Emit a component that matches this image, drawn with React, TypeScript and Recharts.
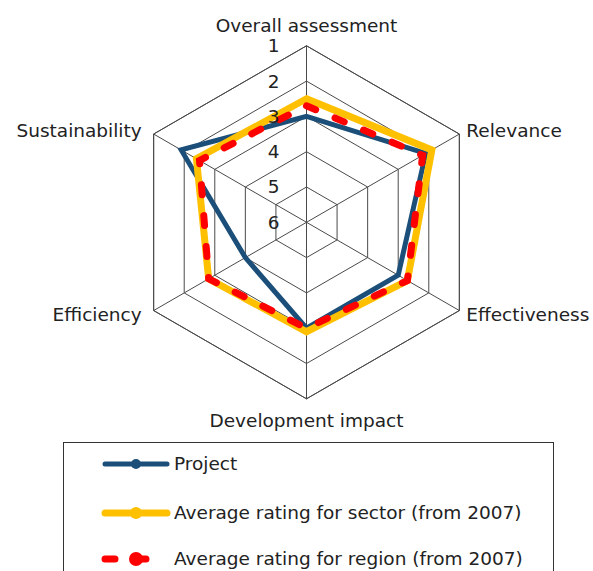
import { RadarChart, PolarGrid, PolarAngleAxis, PolarRadiusAxis, Radar, Legend } from 'recharts'

const categories = [
  'Overall assessment',
  'Relevance',
  'Effectiveness',
  'Development impact',
  'Efficiency',
  'Sustainability',
]
const projectRatings = [3.0, 2.1, 3.0, 3.0, 4.0, 1.9]
const sectorRatings = [2.5, 1.9, 2.7, 2.9, 2.8, 2.4]
const regionRatings = [2.7, 2.2, 2.7, 3.0, 2.8, 2.5]
const ratingTicks = [1, 2, 3, 4, 5, 6]
const seriesNames = [
  'Project',
  'Average rating for sector (from 2007)',
  'Average rating for region (from 2007)',
]

const data = categories.map((name, i) => ({
  name,
  project: projectRatings[i],
  sector: sectorRatings[i],
  region: regionRatings[i],
}))

const FONT = '"DejaVu Sans", sans-serif'
const TEXT = '#222'
const CX = 298.5
const CY = 214.3

const BLUE = '#1b4f79'
const YELLOW = '#ffc000'
const RED = '#ff0000'

// icon styles for the legend, keyed by dataKey
const iconStyles: Record<string, { color: string; width: number; r: number; dash?: string }> = {
  project: { color: BLUE, width: 5, r: 6 },
  sector: { color: YELLOW, width: 7, r: 7 },
  region: { color: RED, width: 7, r: 8, dash: '10 21' },
}

function AngleTick(props: any) {
  const { x, y, payload, textAnchor } = props
  let anchor = textAnchor
  let dy: number | string = '0.35em'
  let dx = 0
  if (Math.abs(x - CX) < 1) {
    anchor = 'middle'
    dy = y < CY ? -6 : 20
  } else if (x < CX) {
    dx = -5
  }
  return (
    <text x={x + dx} y={y} dy={dy} textAnchor={anchor} fill={TEXT} fontSize={18.5} fontFamily={FONT}>
      {payload.value}
    </text>
  )
}

function RadiusTick(props: any) {
  const { x, y, payload } = props
  return (
    <text x={x - 27} y={y} dy="0.35em" textAnchor="end" fill={TEXT} fontSize={18.5} fontFamily={FONT}>
      {payload.value}
    </text>
  )
}

function LegendBox(props: any) {
  const payload = [...(props.payload || [])].sort(
    (a: any, b: any) => seriesNames.indexOf(a.value) - seriesNames.indexOf(b.value),
  )
  const rowCenters = [21, 69.7, 115.7]
  return (
    <div
      style={{
        width: 491,
        height: 170,
        border: '1px solid #333',
        boxSizing: 'border-box',
        background: '#fff',
        position: 'relative',
        fontFamily: FONT,
        fontSize: 18.5,
        color: TEXT,
      }}
    >
      {payload.map((entry: any, i: number) => {
        const s = iconStyles[entry.dataKey] || iconStyles.project
        return (
          <div
            key={entry.dataKey}
            style={{ position: 'absolute', left: 0, top: rowCenters[i] - 14, height: 28, width: 480 }}
          >
            <svg width={70} height={28} style={{ position: 'absolute', left: 37, top: 0 }}>
              <line
                x1={4}
                y1={14}
                x2={66}
                y2={14}
                stroke={s.color}
                strokeWidth={s.width}
                strokeLinecap="round"
                strokeDasharray={s.dash}
              />
              <circle cx={35} cy={14} r={s.r - 1} fill={s.color} />
            </svg>
            <span style={{ position: 'absolute', left: 110, top: 3, whiteSpace: 'nowrap' }}>
              {entry.value}
            </span>
          </div>
        )
      })}
    </div>
  )
}

export default function App() {
  return (
    <div style={{ width: 585, height: 563, overflow: 'hidden' }}>
      <style>{'body{margin:8px 0 0 8px;overflow:hidden}.recharts-surface{overflow:visible}'}</style>
      <RadarChart
        width={585}
        height={600}
        data={data}
        cx={CX}
        cy={CY}
        outerRadius={176.5}
        margin={{ top: 0, right: 0, bottom: 0, left: 0 }}
      >
        <PolarGrid stroke="#4a4a4a" strokeWidth={1} />
        <PolarAngleAxis dataKey="name" tick={AngleTick} tickLine={false} axisLine={{ stroke: '#4a4a4a' }} />
        <PolarRadiusAxis
          angle={90}
          domain={[1, 6]}
          ticks={ratingTicks}
          tickCount={6}
          reversed
          axisLine={false}
          tick={RadiusTick}
        />
        <Radar
          name={seriesNames[0]}
          dataKey="project"
          stroke={BLUE}
          strokeWidth={5}
          fill="none"
          fillOpacity={0}
          dot={{ r: 6, fill: BLUE, stroke: 'none' }}
          isAnimationActive={false}
        />
        <Radar
          name={seriesNames[1]}
          dataKey="sector"
          stroke={YELLOW}
          strokeWidth={7}
          fill="none"
          fillOpacity={0}
          dot={{ r: 7, fill: YELLOW, stroke: 'none' }}
          isAnimationActive={false}
        />
        <Radar
          name={seriesNames[2]}
          dataKey="region"
          stroke={RED}
          strokeWidth={7}
          strokeDasharray="10 21"
          strokeLinecap="round"
          fill="none"
          fillOpacity={0}
          dot={{ r: 8, fill: RED, stroke: 'none', strokeDasharray: '0' }}
          isAnimationActive={false}
        />
        <Legend
          content={LegendBox}
          wrapperStyle={{ left: 55, top: 434, width: 491, height: 170 }}
        />
      </RadarChart>
    </div>
  )
}
